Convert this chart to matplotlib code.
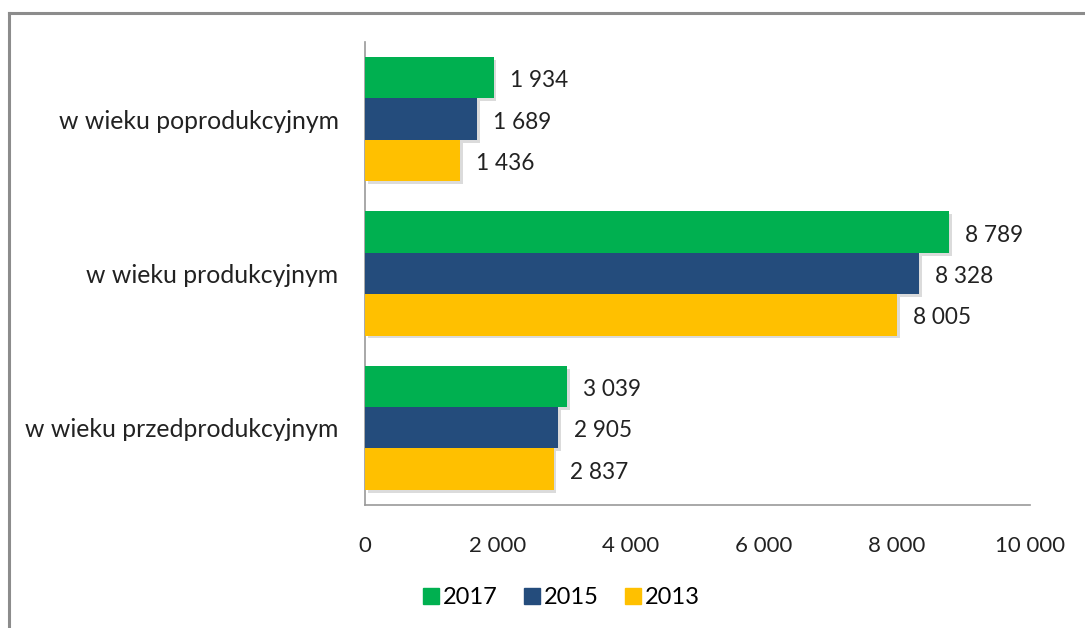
import matplotlib
matplotlib.use("Agg")
import matplotlib.pyplot as plt
import matplotlib.patheffects as pe
from matplotlib.lines import Line2D
import numpy as np

plt.rcParams['font.family'] = ['Lato', 'DejaVu Sans']

categories = ["w wieku poprodukcyjnym", "w wieku produkcyjnym", "w wieku przedprodukcyjnym"]
series_names = ["2017", "2015", "2013"]
values_2017 = [1934, 8789, 3039]
values_2015 = [1689, 8328, 2905]
values_2013 = [1436, 8005, 2837]
colors = ["#00B050", "#244C7C", "#FFC000"]
xticks = [0, 2000, 4000, 6000, 8000, 10000]

def fmt(v):
    return f"{v:,}".replace(",", " ")

fig = plt.figure(figsize=(10.85, 6.28), dpi=100)
ax = fig.add_axes([0.3364, 0.1959, 0.6129, 0.7372])

series = [values_2017, values_2015, values_2013]
h = 0.268
y0 = np.arange(len(categories))
shadow = [pe.SimplePatchShadow(offset=(2, -2), shadow_rgbFace='#b0b0b0', alpha=0.45), pe.Normal()]
for i, (vals, col, name) in enumerate(zip(series, colors, series_names)):
    ypos = y0 + (i - 1) * h
    ax.barh(ypos, vals, height=h, color=col, label=name, path_effects=shadow, zorder=3)
    for yy, v in zip(ypos, vals):
        ax.text(v + 240, yy + 0.02, fmt(v), va='center', ha='left', fontsize=16.3, color='#222222')

ax.set_ylim(len(categories) - 0.5, -0.5)
ax.set_xlim(0, 10000)
ax.set_yticks(y0)
ax.set_yticklabels(categories, fontsize=17.8, color='#222222')
ax.set_xticks(xticks)
ax.set_xticklabels([fmt(t) for t in xticks], fontsize=16, color='#222222')
ax.tick_params(axis='both', length=0)
ax.tick_params(axis='x', pad=22)
ax.tick_params(axis='y', pad=19)
for s in ['top', 'right']:
    ax.spines[s].set_visible(False)
for s in ['left', 'bottom']:
    ax.spines[s].set_color('#999999')
    ax.spines[s].set_linewidth(1.2)

handles = [Line2D([0], [0], marker='s', linestyle='none', markersize=11,
                  markerfacecolor=c, markeredgecolor=c) for c in colors]
fig.legend(handles, series_names, loc='center', bbox_to_anchor=(560/1085, 1 - 598/628),
           ncol=3, frameon=False, fontsize=17, handletextpad=0.05, columnspacing=1.0,
           handlelength=0.9)

# outer frame (top and left edges)
fig.add_artist(Line2D([9/1085, 1], [1 - 13/628, 1 - 13/628], transform=fig.transFigure,
                      color='#8c8c8c', linewidth=2.2))
fig.add_artist(Line2D([9/1085, 9/1085], [0, 1 - 13/628], transform=fig.transFigure,
                      color='#8c8c8c', linewidth=2.2))

fig.savefig("out.png", dpi=100)
